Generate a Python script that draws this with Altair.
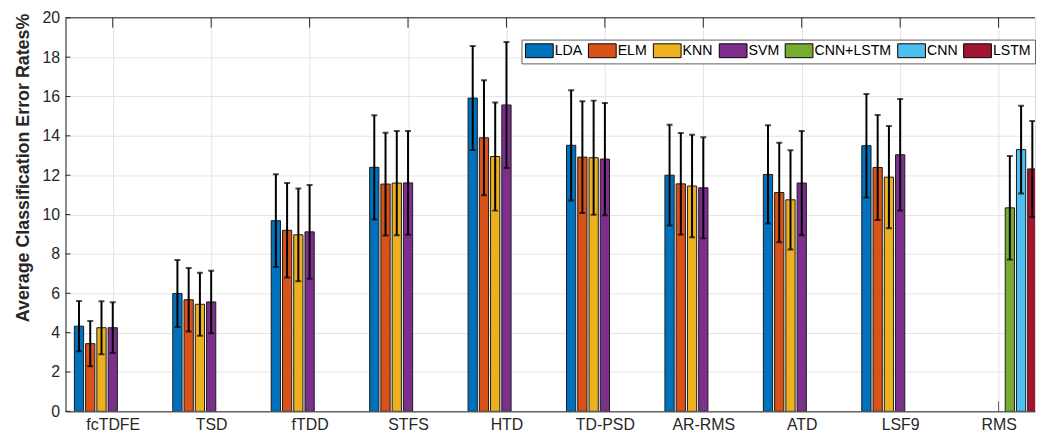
import json
import altair as alt
import pandas as pd

categories = ["fcTDFE", "TSD", "fTDD", "STFS", "HTD", "TD-PSD", "AR-RMS", "ATD", "LSF9", "RMS"]
methods = ["LDA", "ELM", "KNN", "SVM", "CNN+LSTM", "CNN", "LSTM"]
colors = ["#0072BD", "#D95319", "#EDB120", "#7E2F8E", "#77AC30", "#4DBEEE", "#A2142F"]

lda_mean = [4.33, 5.99, 9.69, 12.40, 15.92, 13.52, 12.00, 12.04, 13.50, None]
lda_err = [1.28, 1.70, 2.36, 2.65, 2.64, 2.80, 2.56, 2.50, 2.63, None]
elm_mean = [3.44, 5.67, 9.20, 11.55, 13.90, 12.92, 11.56, 11.12, 12.39, None]
elm_err = [1.15, 1.61, 2.40, 2.61, 2.92, 2.84, 2.58, 2.53, 2.67, None]
knn_mean = [4.25, 5.44, 8.97, 11.60, 12.95, 12.89, 11.45, 10.75, 11.90, None]
knn_err = [1.35, 1.60, 2.36, 2.65, 2.75, 2.90, 2.60, 2.52, 2.60, None]
svm_mean = [4.25, 5.56, 9.12, 11.61, 15.57, 12.82, 11.36, 11.60, 13.04, None]
svm_err = [1.29, 1.59, 2.38, 2.64, 3.20, 2.85, 2.57, 2.65, 2.83, None]
cnnlstm_mean = [None, None, None, None, None, None, None, None, None, 10.34]
cnnlstm_err = [None, None, None, None, None, None, None, None, None, 2.63]
cnn_mean = [None, None, None, None, None, None, None, None, None, 13.30]
cnn_err = [None, None, None, None, None, None, None, None, None, 2.23]
lstm_mean = [None, None, None, None, None, None, None, None, None, 12.32]
lstm_err = [None, None, None, None, None, None, None, None, None, 2.44]

y_ticks = [0, 2, 4, 6, 8, 10, 12, 14, 16, 18, 20]

series_mean = [lda_mean, elm_mean, knn_mean, svm_mean, cnnlstm_mean, cnn_mean, lstm_mean]
series_err = [lda_err, elm_err, knn_err, svm_err, cnnlstm_err, cnn_err, lstm_err]

rows = []
for s, (m, means, errs) in enumerate(zip(methods, series_mean, series_err)):
    for c, (cat, v, e) in enumerate(zip(categories, means, errs)):
        if v is None:
            continue
        rows.append({"category": cat, "idx": c + 1, "method": m, "slot": s + 1,
                     "mean": v, "err": e})
df = pd.DataFrame(rows)
cat_df = pd.DataFrame({"idx": list(range(1, len(categories) + 1))})
ytick_df = pd.DataFrame({"v": y_ticks})

W, H = 978, 397
FONT = "Liberation Sans"
AX = "#262626"

xscale = alt.Scale(domain=[0.52, 10.37], nice=False, zero=False)
yscale = alt.Scale(domain=[0, 20], nice=False, zero=True)

label_expr = json.dumps(categories) + "[datum.value - 1]"

xaxis = alt.Axis(values=list(range(1, 11)), labelExpr=label_expr, grid=True,
                 gridColor="#e4e4e4", gridWidth=1, ticks=False, domainColor=AX,
                 domainWidth=1, labelFont=FONT, labelFontSize=16, labelColor=AX,
                 labelPadding=5, title=None, labelFlush=False)
yaxis = alt.Axis(values=y_ticks, grid=True, gridColor="#e4e4e4", gridWidth=1,
                 ticks=False, domainColor=AX, domainWidth=1, labelFont=FONT,
                 labelFontSize=16, labelColor=AX, labelPadding=6,
                 title="Average Classification Error Rates%", titleFont=FONT,
                 titleFontSize=18, titleFontWeight="bold", titleColor=AX,
                 titleAngle=270, titleX=-37, titleY=151, titleAlign="center",
                 titleBaseline="alphabetic")

base = alt.Chart(df).transform_calculate(
    pos="datum.idx + (datum.slot - 4) * 0.8 / 7",
).transform_calculate(
    x1="datum.pos - 0.047",
    x2="datum.pos + 0.047",
    lo="datum.mean - datum.err",
    hi="datum.mean + datum.err",
)

bars = base.mark_bar(stroke="#1a1a1a", strokeWidth=1, clip=True).encode(
    x=alt.X("x1:Q", scale=xscale, axis=xaxis),
    x2="x2:Q",
    y=alt.Y("mean:Q", scale=yscale, axis=yaxis),
    y2=alt.datum(0),
    color=alt.Color("method:N", scale=alt.Scale(domain=methods, range=colors),
                    legend=alt.Legend(orient="none", legendX=460, legendY=22,
                                      direction="horizontal", title=None,
                                      symbolType="M-1,-1H3V1H-1Z", symbolSize=196,
                                      symbolStrokeColor="#000000", symbolStrokeWidth=1,
                                      symbolOpacity=1, labelFont=FONT, labelFontSize=14.3,
                                      labelColor="#000000", labelOffset=15, columnPadding=3.5,
                                      padding=3.5, strokeColor="#606060", fillColor="white")),
)

err_rule = base.mark_rule(color="black", strokeWidth=2, clip=True).encode(
    x=alt.X("pos:Q", scale=xscale, axis=xaxis),
    y=alt.Y("lo:Q", scale=yscale, axis=yaxis),
    y2="hi:Q",
)
cap_hi = base.mark_tick(color="black", thickness=2, size=6, orient="horizontal", clip=True).encode(
    x=alt.X("pos:Q", scale=xscale, axis=xaxis),
    y=alt.Y("hi:Q", scale=yscale, axis=yaxis),
)
cap_lo = base.mark_tick(color="black", thickness=2, size=6, orient="horizontal", clip=True).encode(
    x=alt.X("pos:Q", scale=xscale, axis=xaxis),
    y=alt.Y("lo:Q", scale=yscale, axis=yaxis),
)

top_ticks = alt.Chart(cat_df).mark_rule(color=AX, strokeWidth=1).encode(
    x=alt.X("idx:Q", scale=xscale, axis=xaxis), y=alt.value(0), y2=alt.value(10))
bottom_ticks = alt.Chart(cat_df).mark_rule(color="#555555", strokeWidth=1).encode(
    x=alt.X("idx:Q", scale=xscale, axis=xaxis), y=alt.value(H), y2=alt.value(H - 10))
left_ticks = alt.Chart(ytick_df).mark_rule(color=AX, strokeWidth=1).encode(
    y=alt.Y("v:Q", scale=yscale, axis=yaxis), x=alt.value(0), x2=alt.value(5))
top_spine = alt.Chart(pd.DataFrame({"a": [0]})).mark_rule(color=AX, strokeWidth=1).encode(
    x=alt.value(0), x2=alt.value(W), y=alt.value(0))

chart = alt.layer(bars, err_rule, cap_hi, cap_lo, top_ticks, bottom_ticks, left_ticks,
                  top_spine).properties(
    width=W, height=H,
    padding={"left": 6, "top": 0, "right": 0, "bottom": 0},
).configure_view(stroke=None).configure(background="white")

chart.save("out.html", embed_options={"renderer": "svg", "actions": False})
